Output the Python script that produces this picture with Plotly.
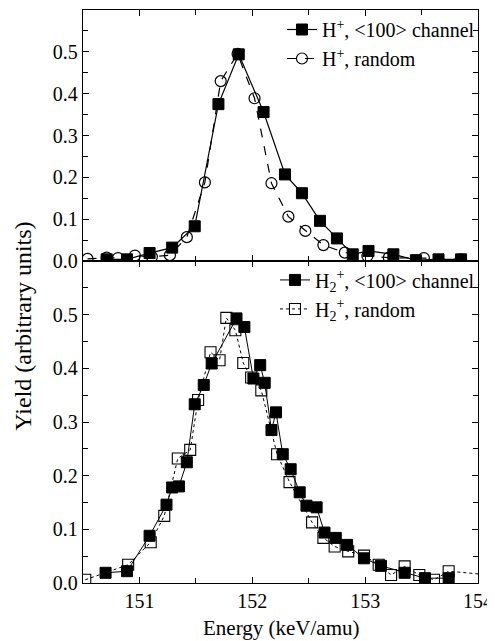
import plotly.graph_objects as go

# ---- Top panel: H+ ----
h_chan_E = [150.71, 150.89, 151.09, 151.29, 151.49, 151.70, 151.88, 152.10, 152.29, 152.44,
            152.60, 152.75, 152.89, 153.03, 153.25, 153.45, 153.65, 153.85]
h_chan_Y = [0.004, 0.004, 0.019, 0.032, 0.083, 0.375, 0.494, 0.356, 0.207, 0.162,
            0.096, 0.054, 0.016, 0.024, 0.016, 0.002, 0.004, 0.004]

h_rand_E = [150.54, 150.71, 150.81, 150.96, 151.11, 151.27, 151.42, 151.58, 151.72, 151.87,
            152.02, 152.17, 152.32, 152.47, 152.63, 152.82, 153.02, 153.21, 153.52, 153.85]
h_rand_Y = [0.005, 0.008, 0.007, 0.013, 0.010, 0.014, 0.057, 0.188, 0.430, 0.495,
            0.389, 0.186, 0.106, 0.072, 0.038, 0.020, 0.012, 0.008, 0.007, 0.004]

# ---- Bottom panel: H2+ ----
h2_chan_E = [150.70, 150.89, 151.09, 151.24, 151.29, 151.35, 151.42, 151.49, 151.57, 151.64,
             151.86, 151.93, 152.01, 152.07, 152.11, 152.17, 152.21, 152.27, 152.34, 152.42,
             152.48, 152.57, 152.64, 152.74, 152.84, 152.99, 153.14, 153.35, 153.53, 153.74]
h2_chan_Y = [0.019, 0.022, 0.088, 0.146, 0.178, 0.180, 0.225, 0.333, 0.369, 0.409,
             0.493, 0.477, 0.381, 0.406, 0.373, 0.285, 0.318, 0.240, 0.212, 0.169,
             0.144, 0.141, 0.094, 0.084, 0.071, 0.046, 0.032, 0.019, 0.009, 0.009]

h2_rand_E = [150.52, 150.90, 151.10, 151.22, 151.34, 151.45, 151.52, 151.63, 151.71, 151.77,
             151.85, 151.92, 151.99, 152.08, 152.22, 152.33, 152.53, 152.63, 152.73, 152.85,
             152.99, 153.12, 153.23, 153.35, 153.48, 153.61, 153.74, 154.10]
h2_rand_Y = [0.006, 0.034, 0.076, 0.125, 0.232, 0.248, 0.341, 0.430, 0.415, 0.494,
             0.471, 0.410, 0.383, 0.359, 0.240, 0.188, 0.113, 0.084, 0.068, 0.059,
             0.051, 0.034, 0.015, 0.031, 0.015, 0.006, 0.022, 0.015]

x_ticks = [151, 152, 153, 154]
y_ticks = [0.0, 0.1, 0.2, 0.3, 0.4, 0.5]
y_tick_text = ["0.0", "0.1", "0.2", "0.3", "0.4", "0.5"]

FONT = "Liberation Serif"

fig = go.Figure()

fig.add_trace(go.Scatter(
    x=h_chan_E, y=h_chan_Y, xaxis="x2", yaxis="y2", mode="lines+markers",
    name="H<sup>+</sup>, &lt;100&gt; channel", legend="legend",
    line=dict(color="black", width=1.2),
    marker=dict(symbol="square", size=11, color="black", line=dict(color="black", width=1))))
fig.add_trace(go.Scatter(
    x=h_rand_E, y=h_rand_Y, xaxis="x2", yaxis="y2", mode="lines+markers",
    name="H<sup>+</sup>, random", legend="legend",
    line=dict(color="black", width=1.2, dash="dash"),
    marker=dict(symbol="circle-open", size=11, color="black", line=dict(color="black", width=1.2))))

fig.add_trace(go.Scatter(
    x=h2_chan_E, y=h2_chan_Y, xaxis="x", yaxis="y", mode="lines+markers",
    name="H<sub>2</sub><sup>+</sup>, &lt;100&gt; channel", legend="legend2",
    line=dict(color="black", width=1),
    marker=dict(symbol="square", size=11, color="black", line=dict(color="black", width=1))))
fig.add_trace(go.Scatter(
    x=h2_rand_E, y=h2_rand_Y, xaxis="x", yaxis="y", mode="lines+markers",
    name="H<sub>2</sub><sup>+</sup>, random", legend="legend2",
    line=dict(color="black", width=1, dash="dot"),
    marker=dict(symbol="square-open", size=11, color="black", line=dict(color="black", width=1.1))))

split = 322 / 573

axis_common = dict(
    showline=True, linecolor="black", linewidth=1.3, mirror="ticks",
    ticks="inside", ticklen=6, tickwidth=1.2, tickcolor="black",
    showgrid=False, zeroline=False,
    tickfont=dict(family=FONT, size=20, color="black"),
)

# page body adds an 8px margin, so the figure is sized/offset to compensate
fig.update_layout(
    width=487, height=633,
    margin=dict(l=75, r=17, t=2, b=58),
    paper_bgcolor="white", plot_bgcolor="white",
    font=dict(family=FONT, color="black"),
    xaxis=dict(**axis_common, domain=[0, 1], anchor="y", range=[150.5, 154],
               tickvals=x_ticks, ticktext=[str(v) for v in x_ticks],
               minor=dict(dtick=0.5, tick0=150.5, ticks="inside", ticklen=5, tickcolor="black")),
    yaxis=dict(**axis_common, domain=[0, split], anchor="x", range=[0, 0.6],
               tickvals=y_ticks, ticktext=y_tick_text,
               minor=dict(dtick=0.05, tick0=0, ticks="inside", ticklen=5, tickcolor="black")),
    xaxis2=dict(**axis_common, domain=[0, 1], anchor="y2", range=[150.5, 154],
                tickvals=x_ticks, showticklabels=False,
                minor=dict(dtick=0.5, tick0=150.5, ticks="inside", ticklen=5, tickcolor="black")),
    yaxis2=dict(**axis_common, domain=[split, 1], anchor="x2", range=[0, 0.6],
                tickvals=y_ticks, ticktext=y_tick_text,
                minor=dict(dtick=0.05, tick0=0, ticks="inside", ticklen=5, tickcolor="black")),
    legend=dict(x=1.005, xanchor="right", y=1.0, yanchor="top",
                bgcolor="rgba(0,0,0,0)", borderwidth=0,
                font=dict(family=FONT, size=20, color="black"), tracegroupgap=0),
    legend2=dict(x=1.005, xanchor="right", y=split + 0.001, yanchor="top",
                 bgcolor="rgba(0,0,0,0)", borderwidth=0,
                 font=dict(family=FONT, size=20, color="black"), tracegroupgap=0),
    showlegend=True,
    annotations=[
        dict(text="Yield (arbitrary units)", textangle=-90,
             xref="paper", yref="paper", x=-0.152, y=0.449,
             xanchor="center", yanchor="middle", showarrow=False,
             font=dict(family=FONT, size=24, color="black")),
        dict(text="Energy (keV/amu)",
             xref="paper", yref="paper", x=0.5, y=-0.0785,
             xanchor="center", yanchor="middle", showarrow=False,
             font=dict(family=FONT, size=21, color="black")),
    ],
)

fig.write_html("out.html")
